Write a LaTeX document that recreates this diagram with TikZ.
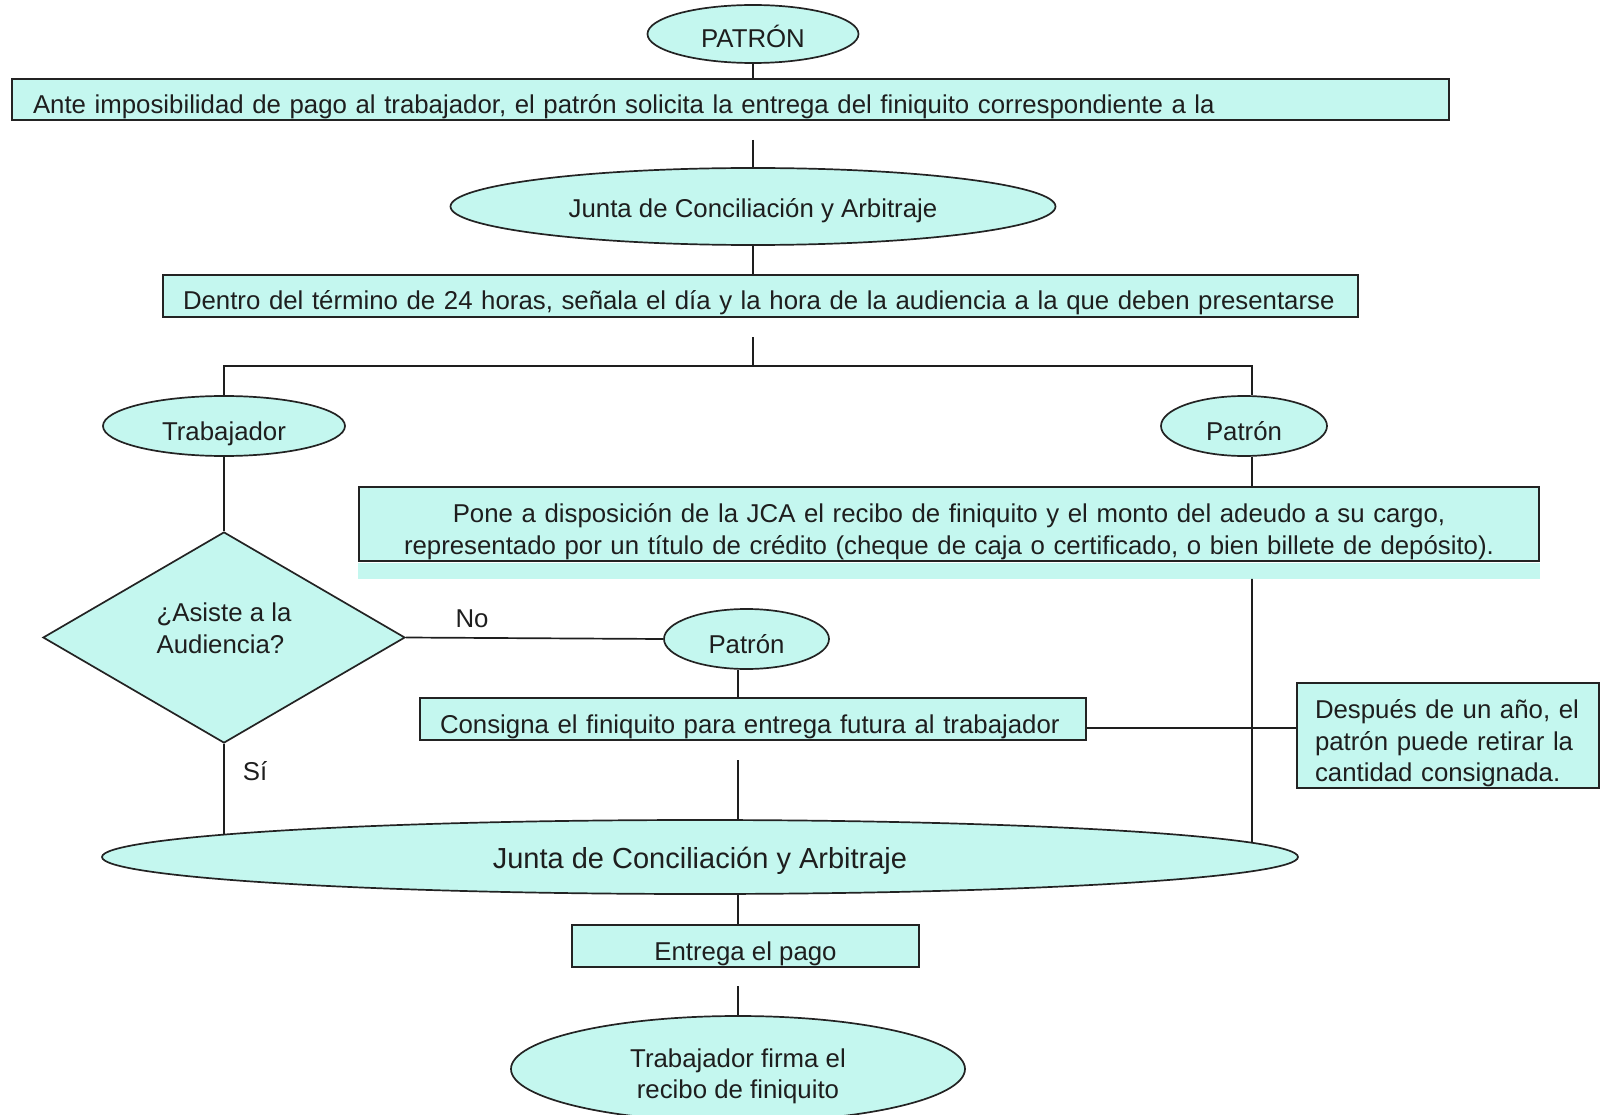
\documentclass[tikz,border=0pt]{standalone}
\usepackage{fontspec}
\setmainfont{Liberation Sans}
\usetikzlibrary{shapes.geometric,intersections,calc}
\definecolor{fillc}{RGB}{196,247,239}
\definecolor{bordc}{RGB}{35,35,35}
\definecolor{linec}{RGB}{30,30,30}
\definecolor{txtc}{RGB}{30,30,30}
\begin{document}
\begin{tikzpicture}[x=1pt,y=-1pt,
  every node/.style={text=txtc, font=\fontsize{25.8}{31.5}\selectfont},
  shp/.style={draw=bordc, fill=fillc, line width=1.7pt},
  boxn/.style={shp, rectangle, inner ysep=0pt},
  elln/.style={shp, ellipse, inner sep=0pt},
  oneline/.style={text height=30pt, text depth=2pt},
  conn/.style={draw=linec, line width=1.7pt},
  lbl/.style={inner sep=0pt}
]
\useasboundingbox (0,0) rectangle (1601,1115);

% nodes
\node[elln, oneline, minimum width=211pt, minimum height=58pt] (pat) at (753,34) {PATRÓN};
\node[boxn, oneline, minimum width=1437pt, minimum height=41pt, text width=1395pt, inner xsep=21pt, align=left] (b1) at (730.5,99.5) {\mbox{Ante imposibilidad de pago al trabajador, el patrón solicita la entrega del finiquito correspondiente a la}};
\coordinate (g1) at (753,140);
\node[elln, text height=26pt, text depth=4pt, minimum width=605pt, minimum height=77pt] (je1) at (753,206.5) {Junta de Conciliación y Arbitraje};
\node[boxn, oneline, minimum width=1195pt, minimum height=42pt, text width=1155pt, inner xsep=20pt, align=left] (b2) at (760.5,296) {\mbox{Dentro del término de 24 horas, señala el día y la hora de la audiencia a la que deben presentarse}};
\coordinate (g2) at (753,337);
\coordinate (hl) at (224,366);
\coordinate (hr) at (1252,366);
\node[elln, oneline, minimum width=242pt, minimum height=60pt] (trab) at (224,426) {Trabajador};
\node[elln, oneline, minimum width=166pt, minimum height=60pt] (patR) at (1244,426) {Patrón};

\node[boxn, minimum width=1180pt, minimum height=74pt, text width=1140pt, inner xsep=20pt, align=center] (jca) at (949,524) {\rule{0pt}{34.5pt}Pone a disposición de la JCA el recibo de finiquito y el monto del adeudo a su cargo,\\ representado por un título de crédito (cheque de caja o certificado, o bien billete de depósito).};
\coordinate (jcab) at ([yshift=-17pt]jca.south);
\fill[fillc] ([yshift=-0.85pt]jca.south west) rectangle (jcab -| jca.east);

\node[diamond, shp, inner sep=0pt, minimum width=362pt, minimum height=211pt, align=left] (dec) at (224,637.5) {¿Asiste a la\\ Audiencia?\rule[-18.4pt]{0pt}{18.4pt}};
\node[lbl] (no) at (472,619) {No};
\node[lbl] (si) at (255,771) {Sí};
\node[elln, oneline, minimum width=165pt, minimum height=60pt] (patC) at (746.5,639) {Patrón};
\node[boxn, oneline, minimum width=666pt, minimum height=42pt, text width=626pt, inner xsep=20pt, align=left] (cons) at (753,719) {\mbox{Consigna el finiquito para entrega futura al trabajador}};
\coordinate (g5) at (738,760);
\coordinate (xm) at (738,0);
\coordinate (hy) at (0,728);
\node[boxn, minimum width=302pt, minimum height=105pt, text width=266pt, inner xsep=18pt, align=left] (des) at (1448,735.5) {\rule{0pt}{35pt}\makebox[266pt][s]{Después de un año, el}\\ \makebox[266pt][s]{patrón puede retirar la}\\ cantidad consignada.};

\node[elln, text height=26pt, text depth=4pt, font=\fontsize{29}{34}\selectfont, minimum width=1196pt, minimum height=74pt, name path=bigE] (big) at (700,857) {Junta de Conciliación y Arbitraje};
\node[boxn, oneline, minimum width=347pt, minimum height=42pt] (ent) at (745.5,946) {Entrega el pago};
\coordinate (g6) at (738,986);
\node[elln, minimum width=454pt, minimum height=106pt, align=center] (fin) at (738,1069) {\rule{0pt}{33pt}Trabajador firma el\\ recibo de finiquito};

% connectors
\draw[conn] (pat.south) -- (pat.south |- b1.north);
\draw[conn] (g1) -- (je1.north);
\draw[conn] (je1.south) -- (je1.south |- b2.north);
\draw[conn] (g2) -- (g2 |- hl);
\draw[conn] (trab.north) -- (trab.north |- hl) -- (hr) -- (hr |- patR.north);
\draw[conn] (hr |- patR.south) -- (hr |- jca.north);
\draw[conn] (trab.south) -- (dec.north);
\draw[conn] (dec.east) -- (patC.west);
\draw[conn] (xm |- patC.south) -- (xm |- cons.north);
\draw[conn] (g5) -- (g5 |- big.north);
\draw[conn] (cons.east |- hy) -- (des.west |- hy);
\path[name path=vS] (dec.south) -- ++(0,200);
\path[name path=vR] (hr |- jcab) -- ++(0,400);
\path[name intersections={of=vS and bigE, sort by=vS, by={sI}}];
\path[name intersections={of=vR and bigE, sort by=vR, by={rI}}];
\draw[conn] (dec.south) -- (sI);
\draw[conn] (hr |- jcab) -- (rI);
\draw[conn] (xm |- big.south) -- (xm |- ent.north);
\draw[conn] (g6) -- (fin.north);
\end{tikzpicture}
\end{document}
